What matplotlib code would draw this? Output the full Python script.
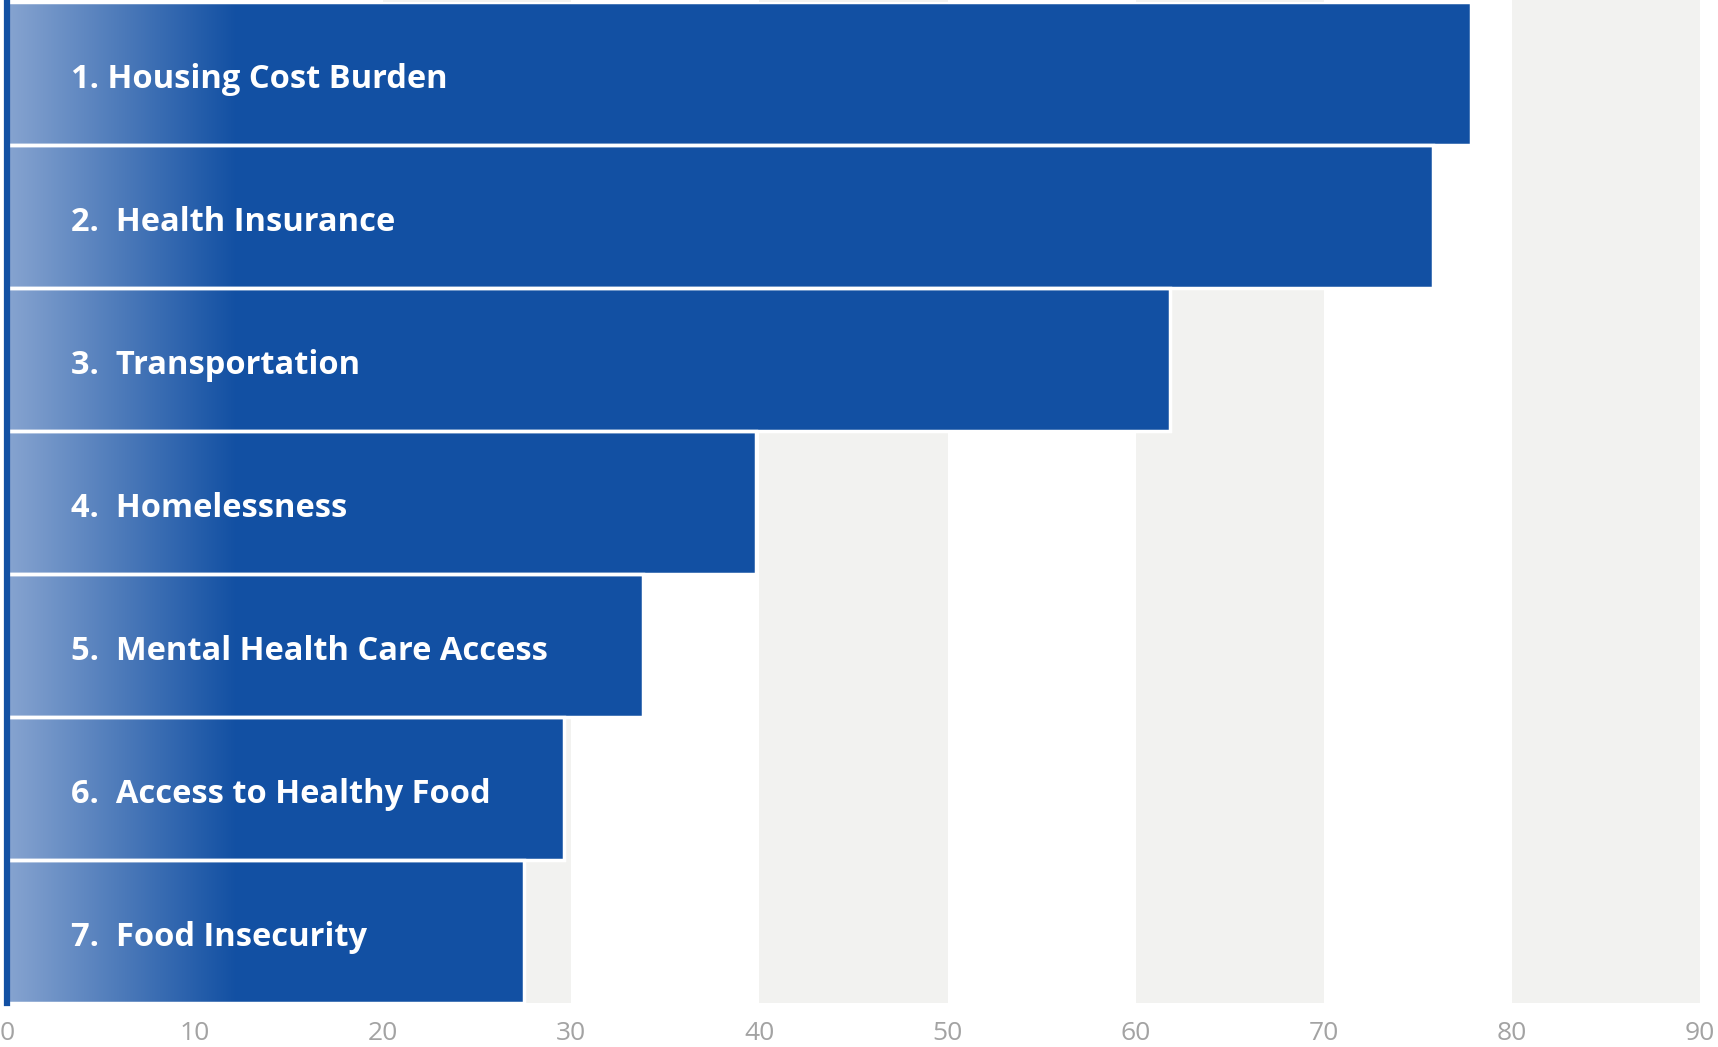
import numpy as np
import matplotlib.pyplot as plt
from matplotlib.colors import LinearSegmentedColormap

labels = ['1. Housing Cost Burden', '2.  Health Insurance', '3.  Transportation',
          '4.  Homelessness', '5.  Mental Health Care Access',
          '6.  Access to Healthy Food', '7.  Food Insecurity']
values = [77.8, 75.8, 61.8, 39.8, 33.8, 29.6, 27.5]
ticks = list(range(0, 100, 10))

dark = '#1250a3'
light = '#87a4d0'
grad_end = 12.2

fig = plt.figure(figsize=(17.18, 10.47), dpi=100)
ax = fig.add_axes([7 / 1718, 44 / 1047, 1693 / 1718, 1001 / 1047])

# alternating grey bands behind bars
for t in ticks[2::2]:
    ax.axvspan(t, t + 10, ymin=0, ymax=1.002, color='#f2f2f0', lw=0, zorder=0, clip_on=False)

cmap = LinearSegmentedColormap.from_list('g', [light, dark])
grad = np.linspace(0, 1, 256).reshape(1, -1)
n = len(values)
ypos = np.arange(n)
for y, v, lab in zip(ypos, values, labels):
    b = ax.barh(y, v, height=1.0, color=dark, lw=0, zorder=2)[0]
    im = ax.imshow(grad, cmap=cmap, aspect='auto', extent=(0, grad_end, y - 0.5, y + 0.5),
                   zorder=3, interpolation='bicubic')
    im.set_clip_path(b)
    ax.barh(y, v, height=1.0, facecolor='none', edgecolor='white', lw=2.5, zorder=4)
    ax.text(3.4, y + 0.045, lab, color='white', fontsize=23.5, fontweight='bold',
            family=['Open Sans', 'DejaVu Sans'], va='center', ha='left', zorder=5)

ax.axvline(0, color=dark, lw=4.5, zorder=6, clip_on=False)

ax.set_xlim(0, 90)
ax.set_ylim(n - 0.5, -0.5)
ax.set_xticks(ticks)
ax.set_yticks([])
ax.tick_params(axis='x', length=0, pad=13, labelsize=19, labelcolor='#a3a3a3')
for t in ax.get_xticklabels():
    t.set_family(['Open Sans', 'DejaVu Sans'])
for s in ax.spines.values():
    s.set_visible(False)

fig.savefig('out.png', dpi=100)
